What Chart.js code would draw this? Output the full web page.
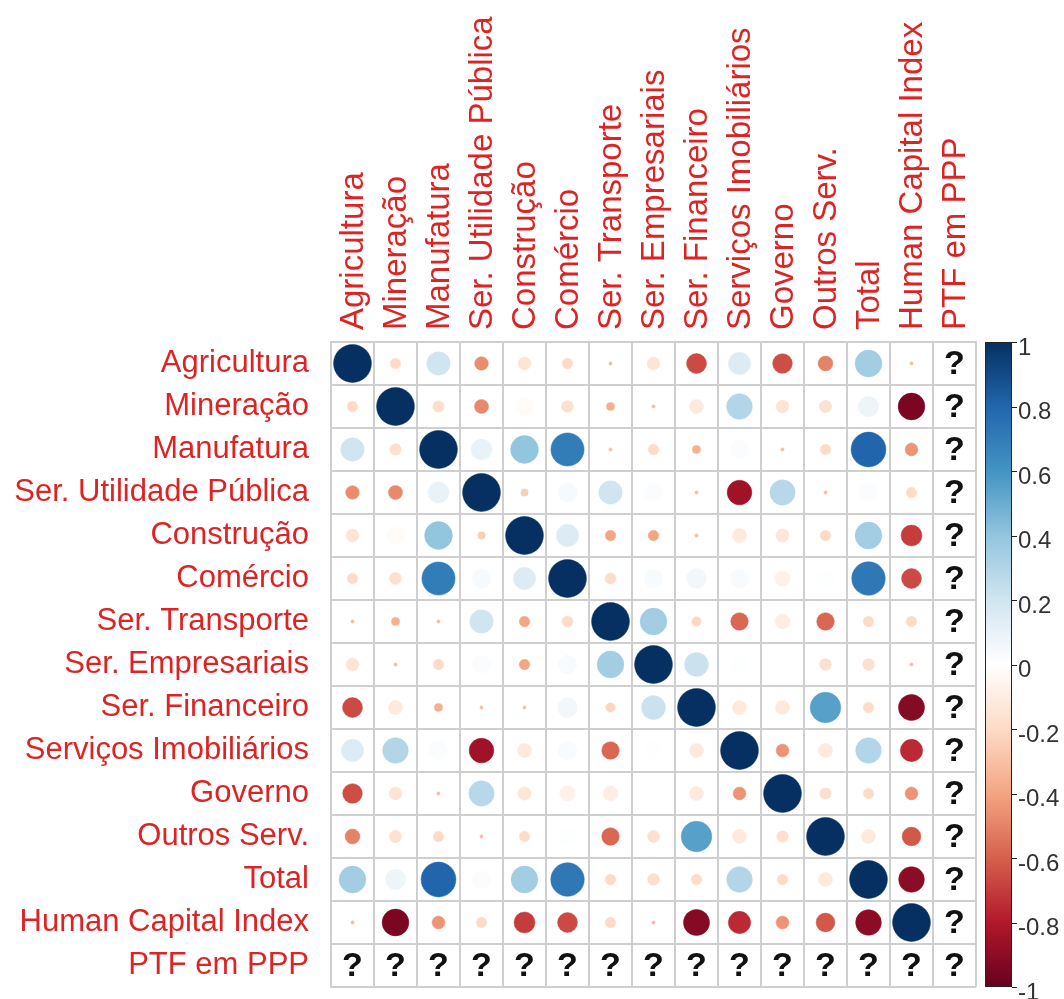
<!DOCTYPE html>
<html>
<head>
<meta charset="utf-8">
<script src="https://cdn.jsdelivr.net/npm/chart.js@4.4.1/dist/chart.umd.min.js"></script>
<style>
    html, body { margin: 0; padding: 0; background: #fff; }
    canvas { display: block; }
</style>
</head>
<body>
<canvas id="corrChart" width="1064" height="999"></canvas>
<script>
const variables = [
    'Agricultura', 'Mineração', 'Manufatura', 'Ser. Utilidade Pública', 'Construção',
    'Comércio', 'Ser. Transporte', 'Ser. Empresariais', 'Ser. Financeiro', 'Serviços Imobiliários',
    'Governo', 'Outros Serv.', 'Total', 'Human Capital Index', 'PTF em PPP',
];

// one row per variable, null = not available (drawn as "?")
const corrRows = [
    [1, -0.2, 0.2, -0.47, -0.15, -0.2, -0.31, -0.15, -0.66, 0.15, -0.65, -0.5, 0.35, -0.31, null],
    [-0.2, 1, -0.18, -0.48, -0.02, -0.17, -0.36, -0.31, -0.12, 0.3, -0.15, -0.16, 0.08, -0.95, null],
    [0.2, -0.18, 1, 0.1, 0.4, 0.7, -0.31, -0.2, -0.36, 0.02, -0.31, -0.2, 0.8, -0.45, null],
    [-0.47, -0.48, 0.1, 1, -0.25, 0.04, 0.2, 0.02, -0.31, -0.85, 0.28, -0.31, 0.02, -0.2, null],
    [-0.15, -0.02, 0.4, -0.25, 1, 0.15, -0.4, -0.4, -0.31, -0.12, -0.14, -0.2, 0.35, -0.7, null],
    [-0.2, -0.17, 0.7, 0.04, 0.15, 1, -0.19, 0.03, 0.06, 0.03, -0.08, 0.01, 0.72, -0.66, null],
    [-0.31, -0.36, -0.31, 0.2, -0.4, -0.19, 1, 0.35, -0.22, -0.58, -0.1, -0.58, -0.2, -0.2, null],
    [-0.15, -0.31, -0.2, 0.02, -0.4, 0.03, 0.35, 1, 0.22, 0.01, -0.3, -0.17, -0.17, -0.31, null],
    [-0.66, -0.12, -0.36, -0.31, -0.31, 0.06, -0.22, 0.22, 1, -0.12, -0.12, 0.55, -0.2, -0.92, null],
    [0.15, 0.3, 0.02, -0.85, -0.12, 0.03, -0.58, 0.01, -0.12, 1, -0.45, -0.12, 0.3, -0.75, null],
    [-0.65, -0.15, -0.31, 0.28, -0.14, -0.08, -0.1, -0.3, -0.12, -0.45, 1, -0.18, -0.2, -0.45, null],
    [-0.5, -0.16, -0.2, -0.31, -0.2, 0.01, -0.58, -0.17, 0.55, -0.12, -0.18, 1, -0.12, -0.62, null],
    [0.35, 0.08, 0.8, 0.02, 0.35, 0.72, -0.2, -0.17, -0.2, 0.3, -0.2, -0.12, 1, -0.9, null],
    [-0.31, -0.95, -0.45, -0.2, -0.7, -0.66, -0.2, -0.31, -0.92, -0.75, -0.45, -0.62, -0.9, 1, null],
    [null, null, null, null, null, null, null, null, null, null, null, null, null, null, null],
];

const colorbarTicks = [-1, -0.8, -0.6, -0.4, -0.2, 0, 0.2, 0.4, 0.6, 0.8, 1];

// RdBu from -1 to 1
const palette = ['#67001F', '#B2182B', '#D6604D', '#F4A582', '#FDDBC7', '#FFFFFF',
    '#D1E5F0', '#92C5DE', '#4393C3', '#2166AC', '#053061'];

const labelRed = '#dd2424';
const gridGray = '#cfcfcf';
const sizeBase = -0.3; // circle size in the picture shrinks to nothing around this value

function hexToRgb(hex) {
    const n = parseInt(hex.slice(1), 16);
    return [(n >> 16) & 255, (n >> 8) & 255, n & 255];
}

function colorFor(value) {
    const t = Math.max(0, Math.min(1, (value + 1) / 2)) * (palette.length - 1);
    const i = Math.min(Math.floor(t), palette.length - 2);
    const f = t - i;
    const a = hexToRgb(palette[i]);
    const b = hexToRgb(palette[i + 1]);
    const mix = a.map((c, k) => Math.round(c + (b[k] - c) * f));
    return `rgb(${mix[0]}, ${mix[1]}, ${mix[2]})`;
}

function radiusFor(value, cell) {
    return cell * 0.44 * Math.sqrt(Math.abs(value - sizeBase) / (1 - sizeBase));
}

const points = [];
corrRows.forEach((row, i) => {
    row.forEach((v, j) => {
        if (v !== null) points.push({ x: j, y: i, v });
    });
});

function cellSize(chart) {
    const xs = chart.scales.x;
    return Math.abs(xs.getPixelForValue(1) - xs.getPixelForValue(0));
}

function noPadding(scale) {
    scale.paddingTop = 0;
    scale.paddingBottom = 0;
    scale.paddingLeft = 0;
    scale.paddingRight = 0;
}

const extrasPlugin = {
    id: 'corrExtras',
    afterDatasetsDraw(chart) {
        const { ctx, scales: { x, y, cb } } = chart;
        ctx.save();

        // missing values
        ctx.font = 'bold 34px "Liberation Sans", Arial, sans-serif';
        ctx.fillStyle = '#111';
        ctx.textAlign = 'center';
        ctx.textBaseline = 'middle';
        corrRows.forEach((row, i) => {
            row.forEach((v, j) => {
                if (v === null) ctx.fillText('?', x.getPixelForValue(j), y.getPixelForValue(i) + 1);
            });
        });

        // colour bar
        const top = cb.getPixelForValue(1);
        const bottom = cb.getPixelForValue(-1);
        const left = cb.left + 9;
        const right = cb.left + 36;
        const gradient = ctx.createLinearGradient(0, bottom, 0, top);
        palette.forEach((c, k) => gradient.addColorStop(k / (palette.length - 1), c));
        ctx.fillStyle = gradient;
        ctx.fillRect(left, top, right - left, bottom - top);
        ctx.strokeStyle = '#222';
        ctx.lineWidth = 1;
        ctx.strokeRect(left + 0.5, top + 0.5, right - left - 1, bottom - top - 1);

        ctx.beginPath();
        colorbarTicks.forEach((t) => {
            const py = Math.round(cb.getPixelForValue(t)) + 0.5;
            ctx.moveTo(right, py);
            ctx.lineTo(right + 5, py);
        });
        ctx.stroke();
        ctx.restore();
    },
};

new Chart(document.getElementById('corrChart'), {
    type: 'scatter',
    data: {
        datasets: [{
            data: points,
            showLine: false,
            pointRadius: (ctx) => (ctx.raw ? radiusFor(ctx.raw.v, cellSize(ctx.chart)) : 0),
            pointHoverRadius: (ctx) => (ctx.raw ? radiusFor(ctx.raw.v, cellSize(ctx.chart)) : 0),
            pointBackgroundColor: (ctx) => (ctx.raw ? colorFor(ctx.raw.v) : '#000'),
            pointBorderColor: (ctx) => (ctx.raw ? colorFor(ctx.raw.v) : '#000'),
            pointBorderWidth: 0.5,
            clip: false,
        }],
    },
    options: {
        responsive: false,
        animation: false,
        events: [],
        layout: { padding: { top: 0, left: 0, right: 0, bottom: 12 } },
        plugins: {
            legend: { display: false },
            tooltip: { enabled: false },
        },
        scales: {
            x: {
                type: 'linear',
                position: 'top',
                min: -0.5,
                max: 14.5,
                bounds: 'data',
                afterBuildTicks: (scale) => {
                    scale.ticks = variables.map((_, i) => ({ value: i }));
                },
                afterFit: (scale) => {
                    scale.height = 342;
                    noPadding(scale);
                },
                ticks: {
                    autoSkip: false,
                    minRotation: 90,
                    maxRotation: 90,
                    padding: 12,
                    labelOffset: 34,
                    color: labelRed,
                    font: { family: '"Liberation Sans", Arial, sans-serif', size: 33, lineHeight: 1 },
                    callback: (v) => variables[v],
                },
                grid: { offset: true, color: gridGray, lineWidth: 2, drawTicks: false },
                border: { display: true, color: gridGray, width: 2 },
            },
            y: {
                type: 'linear',
                position: 'left',
                reverse: true,
                min: -0.5,
                max: 14.5,
                bounds: 'data',
                afterBuildTicks: (scale) => {
                    scale.ticks = variables.map((_, i) => ({ value: i }));
                },
                afterFit: (scale) => {
                    scale.width = 331;
                    noPadding(scale);
                },
                ticks: {
                    autoSkip: false,
                    padding: 22,
                    color: labelRed,
                    font: { family: '"Liberation Sans", Arial, sans-serif', size: 31, lineHeight: 1 },
                    callback: (v) => variables[v],
                },
                grid: { offset: true, color: gridGray, lineWidth: 2, drawTicks: false },
                border: { display: true, color: gridGray, width: 2 },
            },
            cb: {
                type: 'linear',
                position: 'right',
                min: -1,
                max: 1,
                bounds: 'data',
                afterBuildTicks: (scale) => {
                    scale.ticks = colorbarTicks.map((v) => ({ value: v }));
                },
                afterFit: (scale) => {
                    scale.width = 88;
                    noPadding(scale);
                },
                ticks: {
                    padding: 42,
                    labelOffset: 6,
                    color: '#333',
                    font: { family: '"Liberation Sans", Arial, sans-serif', size: 24, lineHeight: 1 },
                    callback: (v) => String(Math.round(v * 10) / 10),
                },
                grid: { display: false, drawTicks: false, drawOnChartArea: false },
                border: { display: false },
            },
        },
    },
    plugins: [extrasPlugin],
});
</script>
</body>
</html>
